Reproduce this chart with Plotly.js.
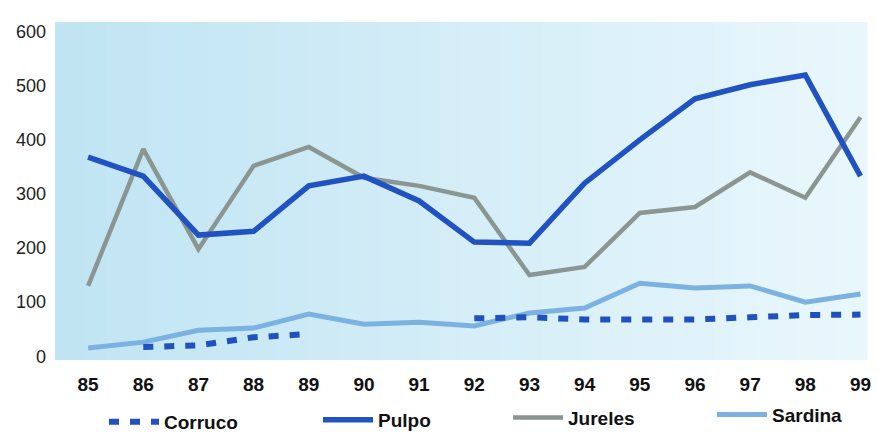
<!DOCTYPE html>
<html>
<head>
<meta charset="utf-8">
<script src="https://cdn.plot.ly/plotly-3.0.1.min.js"></script>
<style>html,body{margin:0;padding:0;background:#fff;}#chart{width:877px;height:435px;}</style>
</head>
<body>
<div id="chart"></div>
<script>
var years = [85, 86, 87, 88, 89, 90, 91, 92, 93, 94, 95, 96, 97, 98, 99];
var tickLabels = ["85","86","87","88","89","90","91","92","93","94","95","96","97","98","99"];
var corruco = [null, 17, 20, 35, 41, null, null, 70, 72, 68, 69, 68, 72, 76, 77];
var pulpo   = [368, 333, 224, 231, 315, 333, 287, 211, 209, 320, 400, 476, 502, 520, 333];
var jureles = [130, 383, 198, 352, 387, 330, 315, 293, 150, 165, 265, 276, 340, 293, 442];
var sardina = [15, 26, 48, 52, 78, 59, 63, 56, 80, 89, 135, 126, 130, 100, 115];
var seriesNames = ["Corruco", "Pulpo", "Jureles", "Sardina"];

// background gradient strips (style only)
function lerp(a,b,t){return Math.round(a+(b-a)*t);}
var c0=[192,228,243], c1=[233,247,252];
var shapes=[];
var N=80;
for(var i=0;i<N;i++){
  var t=i/(N-1);
  var col='rgb('+lerp(c0[0],c1[0],t)+','+lerp(c0[1],c1[1],t)+','+lerp(c0[2],c1[2],t)+')';
  shapes.push({type:'rect',xref:'paper',yref:'paper',x0:i/N,x1:(i+1)/N+0.002,y0:0,y1:1,fillcolor:col,line:{width:0},layer:'below'});
}

var legendFont = {family:'Liberation Sans, Arial, sans-serif', size:19, color:'#111', weight:'bold'};
function lg(x, y){return {orientation:'h',xref:'container',yref:'container',x:x,y:y,xanchor:'left',yanchor:'middle',itemwidth:50,bgcolor:'rgba(0,0,0,0)',font:legendFont};}

var traces = [
  {x:years,y:corruco,name:seriesNames[0],mode:'lines',connectgaps:false,line:{color:'#2150bf',width:6,dash:'10px,11px'},legend:'legend'},
  {x:years,y:pulpo,name:seriesNames[1],mode:'lines',line:{color:'#2152c2',width:5.5},legend:'legend2'},
  {x:years,y:jureles,name:seriesNames[2],mode:'lines',line:{color:'#8b9692',width:4.5},legend:'legend3'},
  {x:years,y:sardina,name:seriesNames[3],mode:'lines',line:{color:'#7cb2e2',width:5},legend:'legend4'}
];
// draw order: sardina, jureles, corruco, pulpo on top
traces = [traces[3], traces[2], traces[0], traces[1]];

var layout = {
  width:877, height:435,
  margin:{l:55, r:11, t:22, b:75, autoexpand:false},
  paper_bgcolor:'#ffffff',
  plot_bgcolor:'rgba(0,0,0,0)',
  showlegend:true,
  shapes:shapes,
  xaxis:{range:[84.4,99.1], tickmode:'array', tickvals:years, ticktext:tickLabels,
    showgrid:false, zeroline:false, showline:false, ticks:'', ticklabelstandoff:11, automargin:false,
    tickfont:{family:'Liberation Sans, Arial, sans-serif', size:19, color:'#111', weight:'bold'}},
  yaxis:{range:[-7,618], tickmode:'array', tickvals:[0,100,200,300,400,500,600],
    showgrid:false, zeroline:false, showline:false, ticks:'', ticklabelstandoff:8, automargin:false,
    tickfont:{family:'Liberation Sans, Arial, sans-serif', size:18, color:'#222'}},
  legend:lg(104/877, 0.03),
  legend2:lg(318/877, 0.035),
  legend3:lg(508/877, 0.04),
  legend4:lg(712/877, 0.047)
};
Plotly.newPlot('chart', traces, layout, {displayModeBar:false, staticPlot:true});
</script>
</body>
</html>
